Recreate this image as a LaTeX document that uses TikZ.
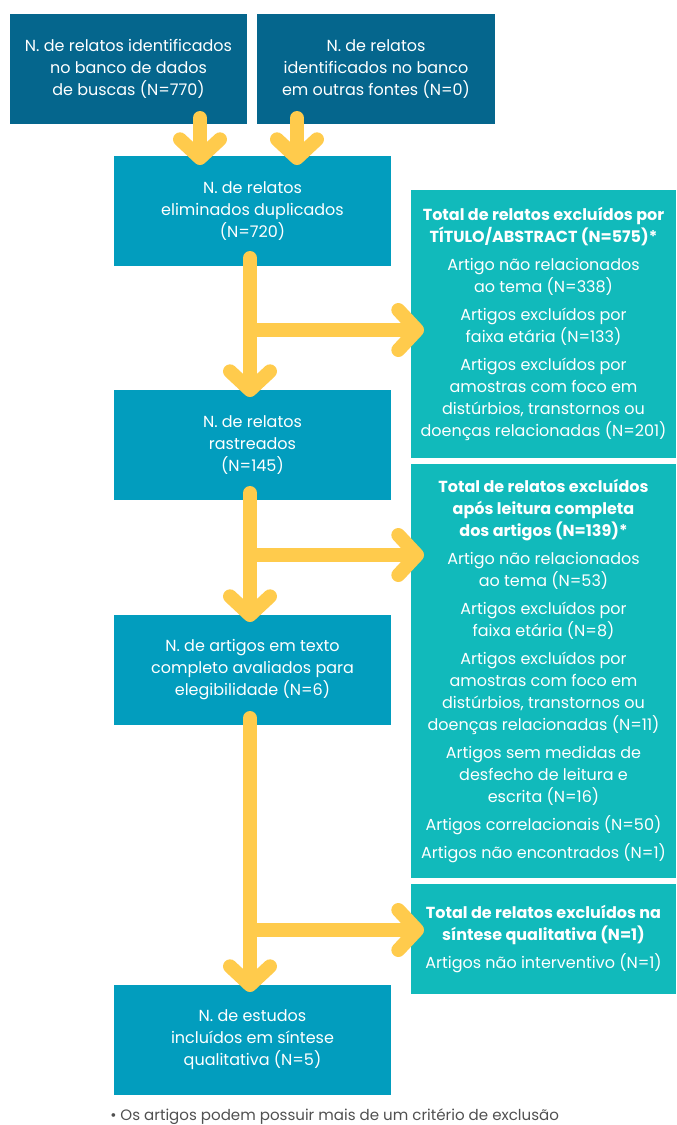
\documentclass[tikz,border=0pt]{standalone}
\usepackage{fontspec}
\setmainfont{Poppins}
\usetikzlibrary{arrows.meta}
\definecolor{srcblue}{RGB}{5,102,141}
\definecolor{stepblue}{RGB}{2,157,190}
\definecolor{excteal}{RGB}{17,186,187}
\definecolor{flowyellow}{RGB}{255,203,76}
\definecolor{notegray}{RGB}{80,80,80}

\begin{document}
\begin{tikzpicture}[x=0.75pt, y=-0.75pt,
    every node/.style={font=\fontsize{12}{16.5}\selectfont, text=white, align=center, inner sep=0pt},
    srcbox/.style={fill=srcblue, minimum width=178pt, minimum height=82.5pt},
    stepbox/.style={fill=stepblue, minimum width=207.75pt, minimum height=82.5pt},
    exclbox/.style={fill=excteal, minimum width=198.75pt},
    flow/.style={draw=flowyellow, line width=10.5pt, line cap=round, line join=round,
        -{Straight Barb[length=14pt, width=30pt, line cap=round, line join=round]}}]

    \useasboundingbox (0,0) rectangle (676,1125);

    % left column
    \node[srcbox] (src1) at (128.5,69) {N. de relatos identificados\\no banco de dados\\de buscas (N=770)};
    \node[srcbox] (src2) at (376,69) {N. de relatos\\identificados no banco\\em outras fontes (N=0)};
    \node[stepbox] (dup) at (252.5,211) {N. de relatos\\eliminados duplicados\\(N=720)};
    \node[stepbox] (screen) at (252.5,445) {N. de relatos\\rastreados\\(N=145)};
    \node[stepbox] (elig) at (252.5,670) {N. de artigos em texto\\completo avaliados para\\elegibilidade (N=6)};
    \node[stepbox] (incl) at (252.5,1040) {N. de estudos\\incluídos em síntese\\qualitativa (N=5)};

    % right column
    \node[exclbox, minimum height=201pt] (excl1) at (543.5,324) {\textbf{Total de relatos excluídos por}\\\textbf{TÍTULO/ABSTRACT (N=575)*}\\[4.5pt]
        Artigo não relacionados\\ao tema (N=338)\\[4.5pt]
        Artigos excluídos por\\faixa etária (N=133)\\[4.5pt]
        Artigos excluídos por\\amostras com foco em\\distúrbios, transtornos ou\\doenças relacionadas (N=201)};
    \node[exclbox, minimum height=310.5pt] (excl2) at (543.5,671) {\textbf{Total de relatos excluídos}\\\textbf{após leitura completa}\\\textbf{dos artigos (N=139)*}\\[4.5pt]
        Artigo não relacionados\\ao tema (N=53)\\[4.5pt]
        Artigos excluídos por\\faixa etária (N=8)\\[4.5pt]
        Artigos excluídos por\\amostras com foco em\\distúrbios, transtornos ou\\doenças relacionadas (N=11)\\[4.5pt]
        Artigos sem medidas de\\desfecho de leitura e\\escrita (N=16)\\[4.5pt]
        Artigos correlacionais (N=50)\\[4.5pt]
        Artigos não encontrados (N=1)};
    \node[exclbox, minimum height=82.5pt] (excl3) at (543.5,939) {\textbf{Total de relatos excluídos na}\\\textbf{síntese qualitativa (N=1)}\\[4.5pt]
        Artigos não interventivo (N=1)};

    \node[text=notegray, font=\fontsize{11.3}{14}\selectfont, anchor=west] (note) at (110,1117) {• Os artigos podem possuir mais de um critério de exclusão};

    % arrow ends
    \coordinate (s1) at (200,118);  \coordinate (t1) at (200,165);
    \coordinate (s2) at (297,118);  \coordinate (t2) at (297,165);
    \coordinate (k1) at (250,258);  \coordinate (j1) at (250,330);
    \coordinate (d1) at (250,397);  \coordinate (r1) at (424,330);
    \coordinate (k2) at (250,493);  \coordinate (j2) at (250,555);
    \coordinate (d2) at (250,622);  \coordinate (r2) at (424,555);
    \coordinate (k3) at (250,718);  \coordinate (j3) at (250,930);
    \coordinate (d3) at (250,992);  \coordinate (r3) at (424,930);

    \draw[flow] (s1)--(t1);
    \draw[flow] (s2)--(t2);
    \foreach \i in {1,2,3}{
    \draw[flow] (k\i)--(d\i);
    \draw[flow] (j\i)--(r\i);
    }
\end{tikzpicture}
\end{document}
